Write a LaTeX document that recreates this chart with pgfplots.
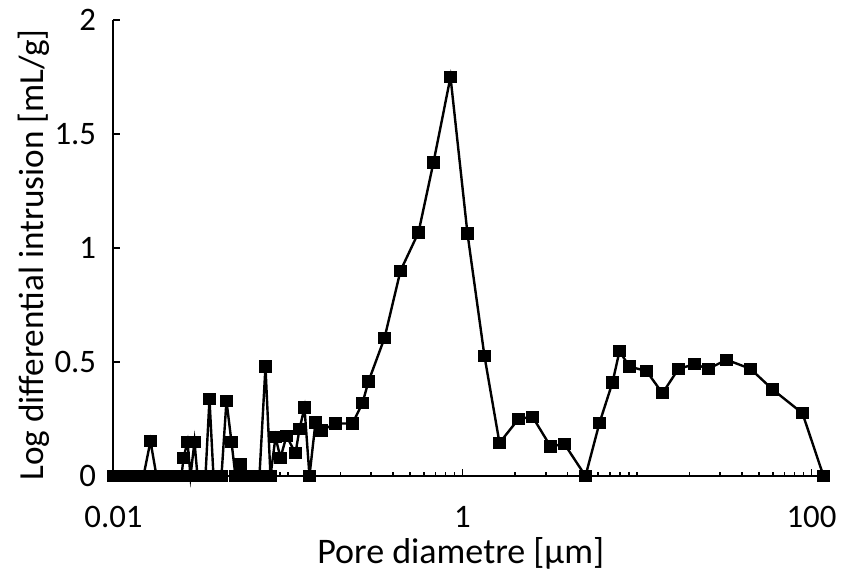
\documentclass[border=0pt]{standalone}
\usepackage{pgfplots}
\pgfplotsset{compat=1.18}
\usepackage{fontspec}
\setmainfont{Carlito}
\begin{document}
\begin{tikzpicture}
\begin{axis}[
  name=ax,
  scale only axis,
  width=355pt, height=228pt,
  xmode=log, xmin=0.01, xmax=117.17,
  ymin=0, ymax=2,
  clip=false,
  axis x line*=bottom, axis y line*=left,
  every outer x axis line/.append style={-},
  every outer y axis line/.append style={-},
  axis line style={-, line width=1pt, black},
  tick align=inside,
  major tick length=3.5pt, minor tick length=2.2pt,
  every tick/.style={black, line width=0.8pt},
  xtick={0.01,1,100}, xticklabels={0.01,1,100},
  minor xtick={0.02,0.03,0.04,0.05,0.06,0.07,0.08,0.09,0.1,0.2,0.3,0.4,0.5,0.6,0.7,0.8,0.9,2,3,4,5,6,7,8,9,10,20,30,40,50,60,70,80,90},
  ytick={0,0.5,1,1.5,2}, yticklabels={0,0.5,1,1.5,2},
  tick label style={font=\fontsize{16.4}{19}\selectfont},
  every x tick label/.append style={inner sep=0pt, anchor=north, yshift=-15pt},
  every y tick label/.append style={inner sep=0pt, anchor=east, xshift=-8.5pt},
  xlabel={Pore diametre [µm]},
  ylabel={Log differential intrusion [mL/g]},
  every axis x label/.style={at={(axis description cs:0.489,-0.193)}, anchor=base, font=\fontsize{18}{21}\selectfont},
  every axis y label/.style={at={(axis description cs:-0.0979,0.485)}, rotate=90, anchor=base, font=\fontsize{17.6}{21}\selectfont},
]
\addplot[black, line width=1.2pt, mark=square*, mark size=2.5pt, mark options={solid}] coordinates {
(0.010000,0) (0.010682,0) (0.011411,0) (0.012190,0) (0.013022,0) (0.013910,0) (0.014859,0)
(0.016293,0.153)
(0.017637,0) (0.018840,0) (0.020126,0) (0.021499,0) (0.022966,0) (0.024533,0)
(0.025190,0.08) (0.026554,0.15) (0.027626,0) (0.029120,0.15) (0.030297,0)
(0.031937,0) (0.033666,0) (0.035489,0.337) (0.037410,0) (0.039435,0) (0.041570,0)
(0.044405,0.33) (0.047432,0.15) (0.050000,0) (0.053410,0.05) (0.055570,0)
(0.058580,0) (0.061750,0) (0.065094,0) (0.068617,0) (0.074306,0.48) (0.079380,0)
(0.084792,0.17) (0.090575,0.08) (0.098040,0.175) (0.110390,0.10) (0.116370,0.205)
(0.124300,0.30) (0.132780,0) (0.143740,0.235) (0.155600,0.20) (0.187200,0.23)
(0.234200,0.23) (0.267300,0.32) (0.289300,0.415) (0.357300,0.605) (0.441200,0.90)
(0.559500,1.068) (0.681900,1.375) (0.853700,1.75) (1.068200,1.063) (1.337000,0.525)
(1.629800,0.145) (2.093500,0.25) (2.518500,0.26) (3.193600,0.13) (3.841700,0.14)
(5.069000,0) (6.098000,0.233) (7.238000,0.41) (7.937000,0.547) (9.059000,0.48)
(11.335,0.46) (14.001,0.363) (17.291,0.47) (21.358,0.49) (25.684,0.47)
(32.580,0.51) (44.707,0.47) (59.770,0.38) (88.790,0.275) (117.17,0)
};
\end{axis}
\pgfresetboundingbox
\path (ax.south west) ++(-56.75pt,-50pt) rectangle ++(421.5pt,288pt);
\end{tikzpicture}
\end{document}
